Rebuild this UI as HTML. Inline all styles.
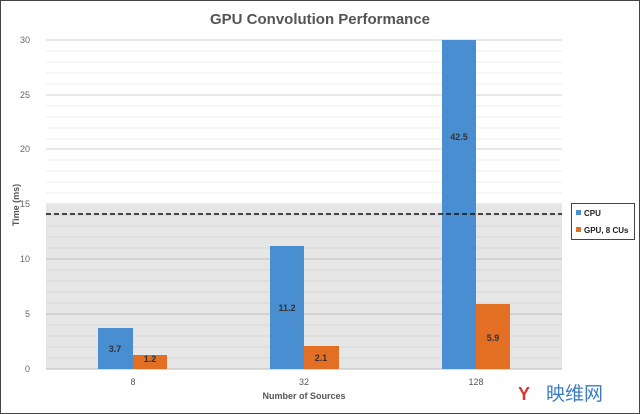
<!DOCTYPE html>
<html><head><meta charset="utf-8"><style>
html,body{margin:0;padding:0;background:#fff}
svg{display:block;font-family:"Liberation Sans","Noto Sans CJK SC",sans-serif}
</style></head><body>
<svg width="640" height="414" viewBox="0 0 640 414">
<rect x="0.5" y="0.5" width="639" height="413" fill="#fff" stroke="#444" stroke-width="1"/>
<text x="320" y="24" text-anchor="middle" font-size="15" font-weight="bold" fill="#555">GPU Convolution Performance</text>
<rect x="46" y="205" width="516" height="164" fill="#e6e6e6"/>
<g stroke="#eeeeee" stroke-width="1">
<line x1="46" x2="562" y1="51" y2="51"/><line x1="46" x2="562" y1="62" y2="62"/><line x1="46" x2="562" y1="73" y2="73"/><line x1="46" x2="562" y1="84" y2="84"/>
<line x1="46" x2="562" y1="106" y2="106"/><line x1="46" x2="562" y1="117" y2="117"/><line x1="46" x2="562" y1="128" y2="128"/><line x1="46" x2="562" y1="139" y2="139"/>
<line x1="46" x2="562" y1="160" y2="160"/><line x1="46" x2="562" y1="171" y2="171"/><line x1="46" x2="562" y1="182" y2="182"/><line x1="46" x2="562" y1="193" y2="193"/>
</g>
<g stroke="#d8d8d8" stroke-width="1">
<line x1="46" x2="562" y1="215" y2="215"/><line x1="46" x2="562" y1="226" y2="226"/><line x1="46" x2="562" y1="237" y2="237"/><line x1="46" x2="562" y1="248" y2="248"/>
<line x1="46" x2="562" y1="270" y2="270"/><line x1="46" x2="562" y1="281" y2="281"/><line x1="46" x2="562" y1="292" y2="292"/><line x1="46" x2="562" y1="303" y2="303"/>
<line x1="46" x2="562" y1="325" y2="325"/><line x1="46" x2="562" y1="336" y2="336"/><line x1="46" x2="562" y1="347" y2="347"/><line x1="46" x2="562" y1="358" y2="358"/>
</g>
<g stroke="#e0e0e0" stroke-width="1.5">
<line x1="46" x2="562" y1="40" y2="40"/><line x1="46" x2="562" y1="95" y2="95"/><line x1="46" x2="562" y1="149" y2="149"/><line x1="46" x2="562" y1="204" y2="204"/>
<line x1="46" x2="562" y1="259" y2="259" stroke="#ccc"/><line x1="46" x2="562" y1="314" y2="314" stroke="#ccc"/>
</g>
<line x1="46" x2="562" y1="369" y2="369" stroke="#bbb"/>
<g font-size="9" fill="#666" text-anchor="end">
<text x="30" y="43">30</text><text x="30" y="98">25</text><text x="30" y="152">20</text><text x="30" y="207">15</text><text x="30" y="262">10</text><text x="30" y="317">5</text><text x="30" y="372">0</text>
</g>
<text transform="translate(19,205) rotate(-90)" text-anchor="middle" font-size="9" font-weight="bold" fill="#555">Time (ms)</text>
<g fill="#4a8ed2">
<rect x="98" y="328" width="35" height="41"/><rect x="270" y="246" width="34" height="123"/><rect x="442" y="40" width="34" height="329"/>
</g>
<g fill="#e26f23">
<rect x="133" y="355" width="34" height="14"/><rect x="304" y="346" width="35" height="23"/><rect x="476" y="304" width="34" height="65"/>
</g>
<line x1="46" x2="562" y1="214" y2="214" stroke="#111" stroke-width="1.5" stroke-dasharray="5,3"/>
<g font-size="9" font-weight="bold" fill="#333" text-anchor="middle">
<text x="115" y="352">3.7</text><text x="150" y="362">1.2</text>
<text x="287" y="311">11.2</text><text x="321" y="361">2.1</text>
<text x="459" y="140">42.5</text><text x="493" y="341">5.9</text>
</g>
<g font-size="9" fill="#555" text-anchor="middle">
<text x="133" y="385">8</text><text x="304" y="385">32</text><text x="476" y="385">128</text>
</g>
<text x="304" y="399" text-anchor="middle" font-size="9" font-weight="bold" fill="#555">Number of Sources</text>
<rect x="571.5" y="203.5" width="63" height="36" fill="#fff" stroke="#444"/>
<rect x="576" y="210" width="5" height="5" fill="#4a8ed2"/><text x="584" y="216" font-size="8" font-weight="bold" fill="#222">CPU</text>
<rect x="576" y="227" width="5" height="5" fill="#e26f23"/><text x="584" y="233" font-size="8" font-weight="bold" fill="#222">GPU, 8 CUs</text>
<text x="518" y="400" font-size="18" font-weight="bold" fill="#d33">Y</text>
<text x="546" y="400" font-size="19" fill="#3a7bc8">映维网</text>
</svg>
</body></html>
